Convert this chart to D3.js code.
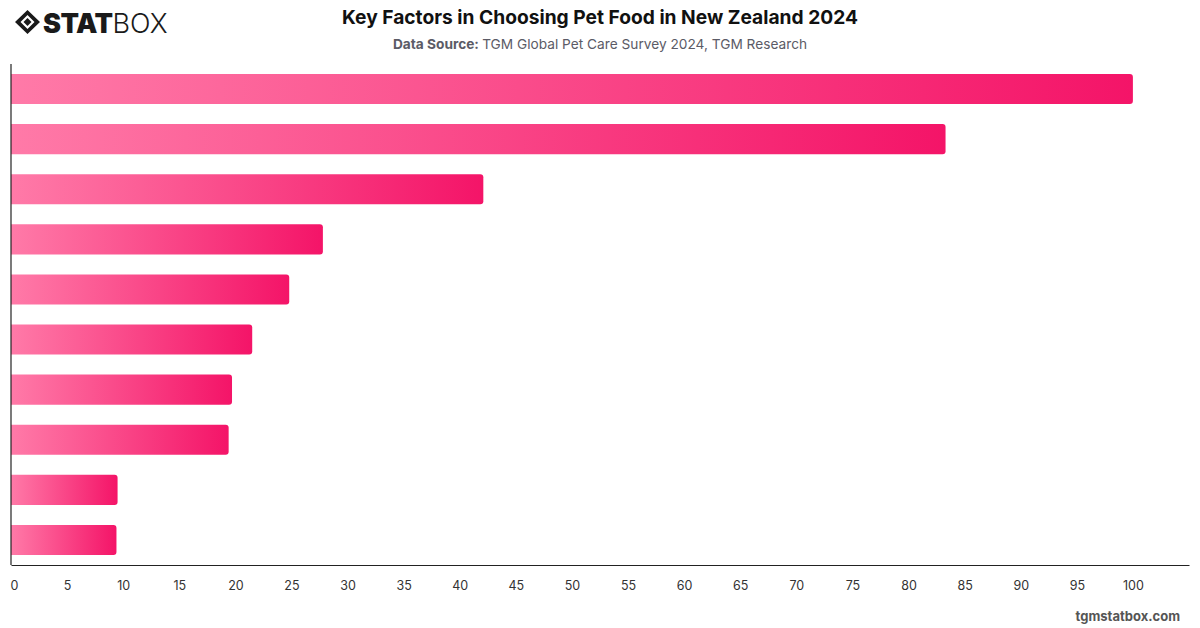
<!DOCTYPE html>
<html>
<head>
<meta charset="utf-8">
<script src="https://cdn.jsdelivr.net/npm/d3@7"></script>
<style>
  body { margin: 0; background: #fff; }
  svg { display: block; font-family: Inter, "Noto Sans", sans-serif; }
</style>
</head>
<body>
<div id="chart"></div>
<script>
const categories = ["F1", "F2", "F3", "F4", "F5", "F6", "F7", "F8", "F9", "F10"];
const values = [100, 83.3, 42.1, 27.8, 24.8, 21.5, 19.7, 19.4, 9.5, 9.4];
const tickValues = d3.range(0, 101, 5);

const width = 1200, height = 628;
const margin = {top: 64, right: 11, bottom: 63, left: 11};

const svg = d3.select("#chart").append("svg")
	.attr("width", width)
	.attr("height", height);

const defs = svg.append("defs");
const grad = defs.append("linearGradient")
	.attr("id", "barGrad")
	.attr("x1", "0%").attr("x2", "100%")
	.attr("y1", "0%").attr("y2", "0%");
grad.append("stop").attr("offset", "0%").attr("stop-color", "#ff7aa8");
grad.append("stop").attr("offset", "100%").attr("stop-color", "#f41468");

const x = d3.scaleLinear()
	.domain([0, 105])
	.range([margin.left, width - margin.right]);

const y = d3.scaleBand()
	.domain(categories)
	.range([margin.top, height - margin.bottom])
	.paddingInner(0.4)
	.paddingOuter(0.2);

// bars, rounded on the right end only
const r = 3;
svg.append("g").selectAll("path")
	.data(values)
	.enter().append("path")
	.attr("fill", "url(#barGrad)")
	.attr("d", function(d, i) {
		const x0 = x(0), x1 = x(d);
		const y0 = y(categories[i]), h = y.bandwidth();
		return "M" + x0 + "," + y0 +
			"H" + (x1 - r) +
			"Q" + x1 + "," + y0 + " " + x1 + "," + (y0 + r) +
			"V" + (y0 + h - r) +
			"Q" + x1 + "," + (y0 + h) + " " + (x1 - r) + "," + (y0 + h) +
			"H" + x0 + "Z";
	});

// axes
const xAxis = svg.append("g")
	.attr("transform", "translate(0," + (height - margin.bottom) + ")")
	.call(d3.axisBottom(x).tickValues(tickValues).tickSize(0).tickPadding(16));
xAxis.select(".domain").attr("stroke", "#222").attr("stroke-width", 1.2);
xAxis.selectAll("text")
	.attr("fill", "#333")
	.style("font-size", "12.5px")
	.style("font-family", "Inter, sans-serif");
xAxis.selectAll(".tick").filter(function(d) { return d === 0; })
	.select("text").attr("dx", 3);

svg.append("line")
	.attr("x1", x(0)).attr("x2", x(0))
	.attr("y1", margin.top).attr("y2", height - margin.bottom)
	.attr("stroke", "#222")
	.attr("stroke-width", 1.2);

// title
svg.append("text")
	.attr("x", 600).attr("y", 24)
	.attr("text-anchor", "middle")
	.attr("fill", "#111")
	.style("font-size", "19.2px")
	.style("font-weight", "700")
	.text("Key Factors in Choosing Pet Food in New Zealand 2024");

const sub = svg.append("text")
	.attr("x", 600).attr("y", 49)
	.attr("text-anchor", "middle")
	.attr("fill", "#5b5b66")
	.style("font-size", "13.7px");
sub.append("tspan").style("font-weight", "700").text("Data Source: ");
sub.append("tspan").text("TGM Global Pet Care Survey 2024, TGM Research");

// logo
const logo = svg.append("g").attr("transform", "translate(15,10)");
logo.append("path")
	.attr("d", "M12.5,0 L25,12 L12.5,24 L0,12 Z M12.5,5 L5.5,12 L12.5,19 L19.5,12 Z")
	.attr("fill", "#1a1a1a")
	.attr("fill-rule", "evenodd");
logo.append("path")
	.attr("d", "M12.5,8 L16.5,12 L12.5,16 L8.5,12 Z")
	.attr("fill", "#1a1a1a");
const logoText = logo.append("text")
	.attr("x", 28).attr("y", 22.5)
	.attr("fill", "#1a1a1a")
	.style("font-size", "27px")
	.style("font-family", "Inter, sans-serif");
logoText.append("tspan").style("font-weight", "900").attr("letter-spacing", "-0.5").text("STAT");
logoText.append("tspan").style("font-weight", "300").text("BOX");

// footer
svg.append("text")
	.attr("x", 1180).attr("y", 621)
	.attr("text-anchor", "end")
	.attr("fill", "#555")
	.style("font-size", "13px")
	.style("font-weight", "700")
	.text("tgmstatbox.com");
</script>
</body>
</html>
